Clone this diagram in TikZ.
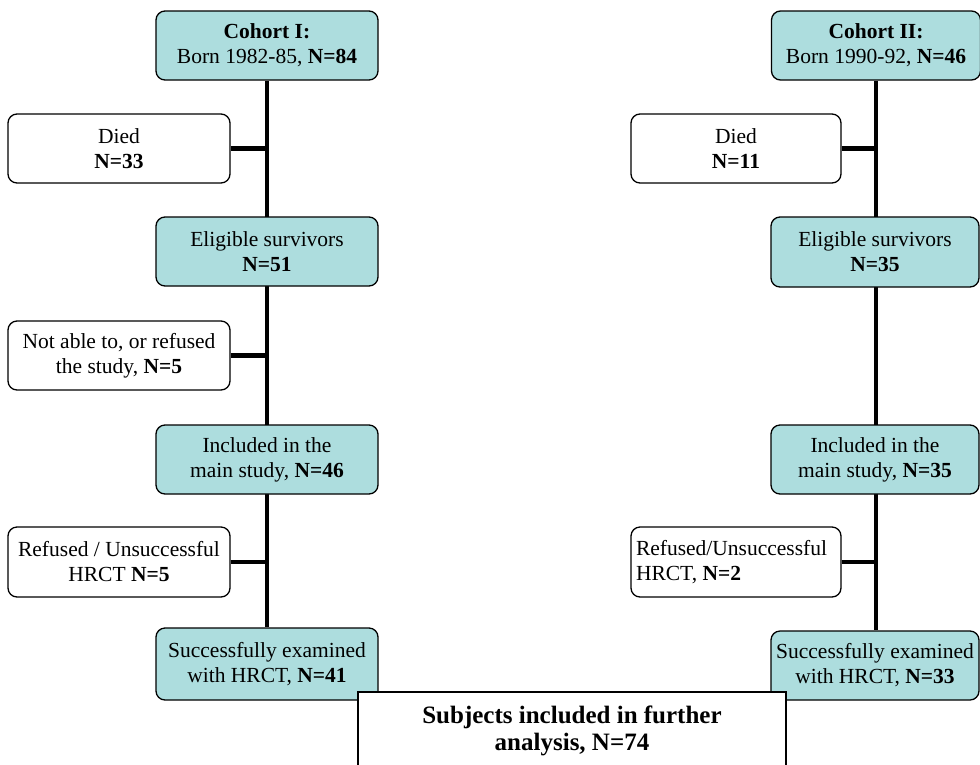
\documentclass[tikz,border=0pt]{standalone}
\usepackage{fontspec}
\setmainfont{Liberation Serif}
\usetikzlibrary{backgrounds}
\definecolor{boxcyan}{RGB}{173,221,222}
\begin{document}
\begin{tikzpicture}[x=1pt,y=-1pt,
  base/.style={draw=black, line width=1.3pt, rounded corners=9pt,
    font=\fontsize{21.5}{25}\selectfont, align=center, inner sep=2pt},
  mainbox/.style={base, fill=boxcyan},
  sidebox/.style={base, fill=white},
  trunk/.style={line width=4.5pt, draw=black}
]
\useasboundingbox (0,0) rectangle (980,764);
% left column
\node[mainbox, minimum width=222pt, minimum height=69pt] (c1) at (267,45.5) {\textbf{Cohort I:}\\Born 1982-85, \textbf{N=84}};
\node[sidebox, minimum width=222pt, minimum height=69pt] (d1) at (119,148.5) {Died\\\textbf{N=33}};
\node[mainbox, minimum width=222pt, minimum height=69pt] (e1) at (267,251.5) {Eligible survivors\\\textbf{N=51}};
\node[sidebox, minimum width=222pt, minimum height=69pt] (n1) at (119,355.5) {Not able to, or refused\\the study, \textbf{N=5}};
\node[mainbox, minimum width=222pt, minimum height=69pt] (i1) at (267,459.5) {Included in the\\main study, \textbf{N=46}};
\node[sidebox, minimum width=222pt, minimum height=70pt] (r1) at (119,562) {Refused / Unsuccessful\\HRCT \textbf{N=5}};
\node[mainbox, minimum width=222pt, minimum height=72pt] (s1) at (267,664) {Successfully examined\\with HRCT, \textbf{N=41}};
% right column
\node[mainbox, minimum width=209pt, minimum height=69pt] (c2) at (876,45.5) {\textbf{Cohort II:}\\Born 1990-92, \textbf{N=46}};
\node[sidebox, minimum width=210pt, minimum height=69pt] (d2) at (736,148.5) {Died\\\textbf{N=11}};
\node[mainbox, minimum width=208pt, minimum height=70pt] (e2) at (875,252) {Eligible survivors\\\textbf{N=35}};
\node[mainbox, minimum width=208pt, minimum height=69pt] (i2) at (875,459.5) {Included in the\\main study, \textbf{N=35}};
\node[sidebox, minimum width=210pt, minimum height=70pt, align=flush left, text width=200pt] (r2) at (736,562) {Refused/Unsuccessful\\HRCT, \textbf{N=2}};
\node[mainbox, minimum width=208pt, minimum height=69pt] (s2) at (875,665.5) {Successfully examined\\with HRCT, \textbf{N=33}};
% connectors
\begin{scope}[on background layer]
\draw[trunk] (c1.south) -- (s1.north);
\draw[trunk] (c2.south) -- (c2.south |- s2.north);
\draw[trunk] (d1.east) -- (d1.east -| c1.south);
\draw[trunk] (n1.east) -- (n1.east -| c1.south);
\draw[trunk] (r1.east) -- (r1.east -| c1.south);
\draw[trunk] (d2.east) -- (d2.east -| c2.south);
\draw[trunk] (r2.east) -- (r2.east -| c2.south);
\end{scope}
% final box
\node[draw=black, line width=1.3pt, fill=white, minimum width=428pt, minimum height=78pt,
  font=\bfseries\fontsize{25}{27}\selectfont, align=center, inner sep=2pt] (f) at (572,731)
  {Subjects included in further\\analysis, N=74};
\end{tikzpicture}
\end{document}
